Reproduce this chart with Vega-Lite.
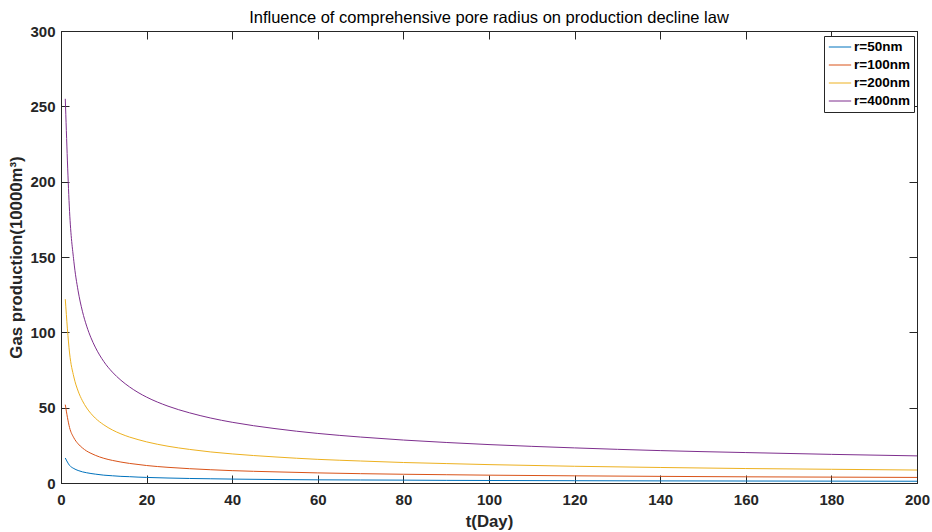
{
  "$schema": "https://vega.github.io/schema/vega-lite/v6.json",
  "width": 856,
  "height": 452,
  "autosize": {"type": "none"},
  "padding": {"left": 61, "top": 31, "right": 15, "bottom": 49},
  "background": "white",
  "config": {
    "font": "Liberation Sans",
    "view": {"stroke": "#262626", "strokeWidth": 1}
  },
  "title": {
    "text": "Influence of comprehensive pore radius on production decline law",
    "fontSize": 16.5,
    "fontWeight": "normal",
    "font": "Liberation Sans",
    "color": "#000000",
    "anchor": "middle",
    "offset": -2
  },
  "datasets": {
    "prod": [
      {"t": 1, "r=50nm": 16.6, "r=100nm": 52.0, "r=200nm": 122.0, "r=400nm": 255.0},
      {"t": 2, "r=50nm": 11.7, "r=100nm": 36.8, "r=200nm": 86.3, "r=400nm": 180.3},
      {"t": 3, "r=50nm": 9.6, "r=100nm": 30.0, "r=200nm": 70.4, "r=400nm": 147.2},
      {"t": 4, "r=50nm": 8.3, "r=100nm": 26.0, "r=200nm": 61.0, "r=400nm": 127.5},
      {"t": 5, "r=50nm": 7.4, "r=100nm": 23.3, "r=200nm": 54.6, "r=400nm": 114.0},
      {"t": 6, "r=50nm": 6.8, "r=100nm": 21.2, "r=200nm": 49.8, "r=400nm": 104.1},
      {"t": 7, "r=50nm": 6.3, "r=100nm": 19.7, "r=200nm": 46.1, "r=400nm": 96.4},
      {"t": 8, "r=50nm": 5.9, "r=100nm": 18.4, "r=200nm": 43.1, "r=400nm": 90.2},
      {"t": 10, "r=50nm": 5.2, "r=100nm": 16.4, "r=200nm": 38.6, "r=400nm": 80.6},
      {"t": 12, "r=50nm": 4.8, "r=100nm": 15.0, "r=200nm": 35.2, "r=400nm": 73.6},
      {"t": 14, "r=50nm": 4.4, "r=100nm": 13.9, "r=200nm": 32.6, "r=400nm": 68.2},
      {"t": 16, "r=50nm": 4.2, "r=100nm": 13.0, "r=200nm": 30.5, "r=400nm": 63.8},
      {"t": 18, "r=50nm": 3.9, "r=100nm": 12.3, "r=200nm": 28.8, "r=400nm": 60.1},
      {"t": 20, "r=50nm": 3.7, "r=100nm": 11.6, "r=200nm": 27.3, "r=400nm": 57.0},
      {"t": 25, "r=50nm": 3.3, "r=100nm": 10.4, "r=200nm": 24.4, "r=400nm": 51.0},
      {"t": 30, "r=50nm": 3.0, "r=100nm": 9.5, "r=200nm": 22.3, "r=400nm": 46.6},
      {"t": 35, "r=50nm": 2.8, "r=100nm": 8.8, "r=200nm": 20.6, "r=400nm": 43.1},
      {"t": 40, "r=50nm": 2.6, "r=100nm": 8.2, "r=200nm": 19.3, "r=400nm": 40.3},
      {"t": 50, "r=50nm": 2.3, "r=100nm": 7.4, "r=200nm": 17.3, "r=400nm": 36.1},
      {"t": 60, "r=50nm": 2.1, "r=100nm": 6.7, "r=200nm": 15.7, "r=400nm": 32.9},
      {"t": 70, "r=50nm": 2.0, "r=100nm": 6.2, "r=200nm": 14.6, "r=400nm": 30.5},
      {"t": 80, "r=50nm": 1.9, "r=100nm": 5.8, "r=200nm": 13.6, "r=400nm": 28.5},
      {"t": 90, "r=50nm": 1.75, "r=100nm": 5.5, "r=200nm": 12.9, "r=400nm": 26.9},
      {"t": 100, "r=50nm": 1.66, "r=100nm": 5.2, "r=200nm": 12.2, "r=400nm": 25.5},
      {"t": 120, "r=50nm": 1.52, "r=100nm": 4.75, "r=200nm": 11.1, "r=400nm": 23.3},
      {"t": 140, "r=50nm": 1.4, "r=100nm": 4.4, "r=200nm": 10.3, "r=400nm": 21.5},
      {"t": 160, "r=50nm": 1.31, "r=100nm": 4.1, "r=200nm": 9.6, "r=400nm": 20.2},
      {"t": 180, "r=50nm": 1.24, "r=100nm": 3.9, "r=200nm": 9.1, "r=400nm": 19.0},
      {"t": 200, "r=50nm": 1.17, "r=100nm": 3.7, "r=200nm": 8.6, "r=400nm": 18.0}
    ]
  },
  "data": {"name": "prod"},
  "transform": [
    {"fold": ["r=50nm", "r=100nm", "r=200nm", "r=400nm"], "as": ["series", "q"]}
  ],
  "resolve": {"axis": {"x": "independent", "y": "independent"}},
  "layer": [
    {
      "mark": {"type": "line", "strokeWidth": 1, "interpolate": "monotone"},
      "encoding": {
        "x": {
          "field": "t", "type": "quantitative",
          "scale": {"domain": [0, 200], "nice": false, "zero": false},
          "axis": {
            "orient": "bottom", "title": "t(Day)", "values": [0, 20, 40, 60, 80, 100, 120, 140, 160, 180, 200],
            "grid": false, "domainColor": "#262626", "tickColor": "#262626", "tickSize": -8,
            "labelPadding": 17, "labelFontSize": 15, "labelFontWeight": "bold", "labelColor": "#262626",
            "labelFlush": false, "labelOverlap": false,
            "titleFontSize": 16.8, "titleFontWeight": "bold", "titleColor": "#262626", "titlePadding": 6
          }
        },
        "y": {
          "field": "q", "type": "quantitative",
          "scale": {"domain": [0, 300], "nice": false},
          "axis": {
            "orient": "left", "title": "Gas production(10000m³)", "values": [0, 50, 100, 150, 200, 250, 300],
            "grid": false, "domainColor": "#262626", "tickColor": "#262626", "tickSize": -8,
            "labelPadding": 14, "labelFontSize": 15, "labelFontWeight": "bold", "labelColor": "#262626",
            "labelFlush": false, "labelOverlap": false,
            "titleFontSize": 16.8, "titleFontWeight": "bold", "titleColor": "#262626", "titlePadding": 4
          }
        },
        "color": {
          "field": "series", "type": "nominal",
          "scale": {
            "domain": ["r=50nm", "r=100nm", "r=200nm", "r=400nm"],
            "range": ["#0072BD", "#D95319", "#EDB120", "#7E2F8E"]
          },
          "legend": {
            "title": null, "orient": "none", "legendX": 763, "legendY": 5,
            "symbolType": "stroke", "symbolSize": 500, "symbolStrokeWidth": 1,
            "clipHeight": 14,
            "labelFontSize": 13.5, "labelFontWeight": "bold", "labelColor": "#000000",
            "strokeColor": "#262626", "fillColor": "#ffffff", "padding": 4, "rowPadding": 4,
            "labelOffset": 2
          }
        }
      }
    },
    {
      "mark": {"type": "line", "opacity": 0},
      "encoding": {
        "x": {
          "field": "t", "type": "quantitative",
          "axis": {
            "orient": "top", "title": null, "values": [0, 20, 40, 60, 80, 100, 120, 140, 160, 180, 200],
            "labels": false, "grid": false, "domainColor": "#262626", "tickColor": "#262626", "tickSize": -8
          }
        },
        "y": {
          "field": "q", "type": "quantitative",
          "axis": {
            "orient": "right", "title": null, "values": [0, 50, 100, 150, 200, 250, 300],
            "labels": false, "grid": false, "domainColor": "#262626", "tickColor": "#262626", "tickSize": -8
          }
        },
        "detail": {"field": "series", "type": "nominal"}
      }
    }
  ]
}
